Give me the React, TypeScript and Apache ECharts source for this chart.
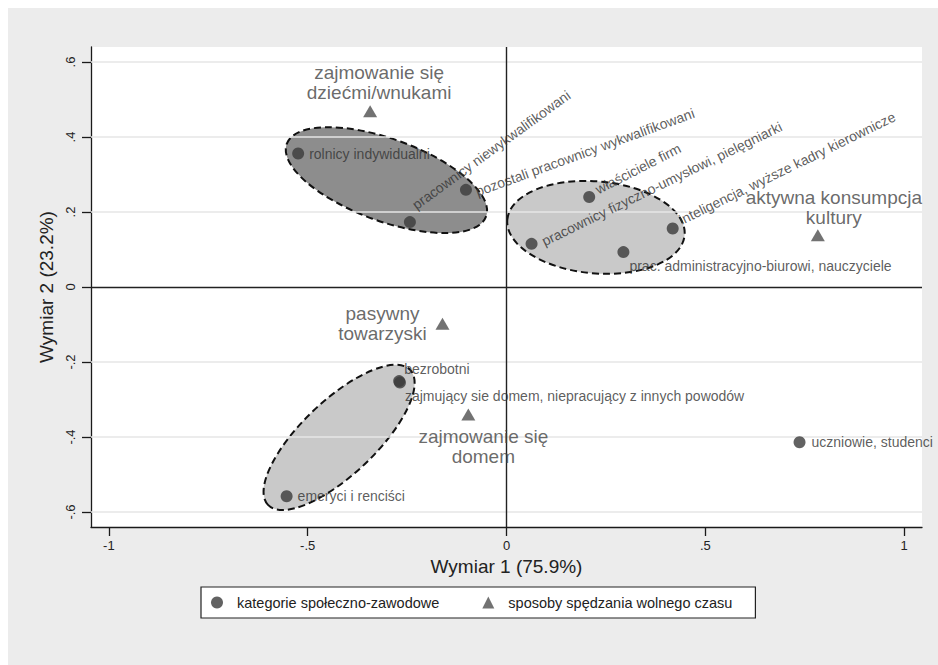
import React, { useEffect, useRef } from "react";
import * as echarts from "echarts";

// ---------- axes ----------
const X_TICKS = [-1, -0.5, 0, 0.5, 1];
const Y_TICKS = [-0.6, -0.4, -0.2, 0, 0.2, 0.4, 0.6];
const X_MIN = -1.045;
const X_MAX = 1.045;
const Y_MIN = -0.64;
const Y_MAX = 0.64;
const X_TITLE = "Wymiar 1 (75.9%)";
const Y_TITLE = "Wymiar 2 (23.2%)";

// ---------- series: kategorie społeczno-zawodowe ----------
const CATEGORY_SERIES = "kategorie społeczno-zawodowe";
const CATEGORY_NAMES = [
  "rolnicy indywidualni",
  "pracownicy niewykwalifikowani",
  "pozostali pracownicy wykwalifikowani",
  "właściciele firm",
  "pracownicy fizyczno-umysłowi, pielęgniarki",
  "inteligencja, wyższe kadry kierownicze",
  "prac. administracyjno-biurowi, nauczyciele",
  "bezrobotni",
  "zajmujący sie domem, niepracujący z innych powodów",
  "emeryci i renciści",
  "uczniowie, studenci",
];
const CATEGORY_X = [-0.524, -0.243, -0.102, 0.208, 0.063, 0.418, 0.294, -0.27, -0.268, -0.553, 0.737];
const CATEGORY_Y = [0.356, 0.173, 0.259, 0.24, 0.115, 0.156, 0.093, -0.251, -0.255, -0.558, -0.414];

// ---------- series: sposoby spędzania wolnego czasu ----------
const LEISURE_SERIES = "sposoby spędzania wolnego czasu";
const LEISURE_NAMES = [
  "zajmowanie się\ndziećmi/wnukami",
  "aktywna konsumpcja\nkultury",
  "pasywny\ntowarzyski",
  "zajmowanie się\ndomem",
];
const LEISURE_X = [-0.343, 0.783, -0.161, -0.096];
const LEISURE_Y = [0.469, 0.138, -0.098, -0.34];

// ---------- grouping ellipses (data space) ----------
const ELLIPSE_CX = [-0.302, 0.225, -0.421];
const ELLIPSE_CY = [0.285, 0.159, -0.401];
const ELLIPSE_MAJOR_DX = [0.2506, 0.223, 0.1789];
const ELLIPSE_MAJOR_DY = [-0.0967, -0.0207, 0.18];
const ELLIPSE_MINOR_RATIO = [0.387, 0.517, 0.378];

// ---------- label layout (pixels, separate from data) ----------
const CAT_LABEL_DX = [11, 4, 10, 7, 11, 7, 6, 5, 5, 11, 12];
const CAT_LABEL_DY = [0, -16, 2, -7, -2, -8, 14, -12, 13, 0, 0];
const CAT_LABEL_ROT = [0, 36, 20, 27, 26, 26, 0, 0, 0, 0, 0];
const LEI_LABEL_DX = [9, 16, -60, 15];
const LEI_LABEL_DY = [-29, -28, 0, 32];

// ---------- styles ----------
const FONT = "'Liberation Sans', Arial, Helvetica, sans-serif";
const ELLIPSE_FILLS = ["#8d8d8d", "#c9c9c9", "#c9c9c9"];
const DOT_SIZE = 12;
const TRI_W = 14;
const TRI_H = 12;

const fmt = (v: number) => {
  if (v === 0) return "0";
  const s = String(Math.abs(v)).replace(/^0/, "");
  return (v < 0 ? "-" : "") + s;
};

export default function App() {
  const ref = useRef<HTMLDivElement>(null);

  useEffect(() => {
    if (!ref.current) return;
    const chart = echarts.init(ref.current, undefined, { renderer: "svg" });

    const ellipseData = ELLIPSE_CX.map((cx, i) => [
      cx,
      ELLIPSE_CY[i],
      ELLIPSE_MAJOR_DX[i],
      ELLIPSE_MAJOR_DY[i],
      ELLIPSE_MINOR_RATIO[i],
      i,
    ]);

    const catData = CATEGORY_NAMES.map((n, i) => ({
      name: n,
      value: [CATEGORY_X[i], CATEGORY_Y[i]],
      label: {
        position: [DOT_SIZE / 2 + CAT_LABEL_DX[i], DOT_SIZE / 2 + CAT_LABEL_DY[i]],
        rotate: CAT_LABEL_ROT[i],
      },
    }));

    const leiData = LEISURE_NAMES.map((n, i) => ({
      name: n,
      value: [LEISURE_X[i], LEISURE_Y[i]],
      label: {
        position: [TRI_W / 2 + LEI_LABEL_DX[i], TRI_H / 2 + LEI_LABEL_DY[i]],
      },
    }));

    const gridLines = Y_TICKS.filter((v) => v !== 0).map((v) => ({
      yAxis: v,
      lineStyle: { color: "#e6e6e6", width: 1.5, type: "solid" },
    }));

    const axisLineStyle = { color: "#1a1a1a", width: 1.3 };

    chart.setOption({
      animation: false,
      textStyle: { fontFamily: FONT },
      grid: {
        left: 83,
        top: 39,
        width: 831,
        height: 480,
        show: true,
        backgroundColor: "#ffffff",
        borderWidth: 0,
      },
      legend: {
        data: [CATEGORY_SERIES, LEISURE_SERIES],
        selectedMode: false,
        left: 193,
        top: 579,
        orient: "horizontal",
        itemWidth: 12,
        itemHeight: 12,
        itemGap: 43,
        padding: [8, 23, 8, 10],
        backgroundColor: "#ffffff",
        borderColor: "#222222",
        borderWidth: 1.2,
        borderRadius: 0,
        textStyle: {
          fontSize: 14.5,
          color: "#222222",
          fontFamily: FONT,
          padding: [0, 0, 0, 9],
        },
      },
      xAxis: {
        type: "value",
        min: X_MIN,
        max: X_MAX,
        name: X_TITLE,
        nameLocation: "middle",
        nameGap: 27,
        nameTextStyle: { fontSize: 19, color: "#222222", fontFamily: FONT },
        axisLine: { show: true, onZero: false, lineStyle: axisLineStyle },
        axisTick: { show: true, length: 9, lineStyle: axisLineStyle, customValues: X_TICKS },
        axisLabel: {
          customValues: X_TICKS,
          formatter: fmt,
          fontSize: 13,
          color: "#222222",
          margin: 12,
          fontFamily: FONT,
        },
        splitLine: { show: false },
      },
      yAxis: {
        type: "value",
        min: Y_MIN,
        max: Y_MAX,
        name: Y_TITLE,
        nameLocation: "middle",
        nameGap: 33,
        nameTextStyle: { fontSize: 19, color: "#222222", fontFamily: FONT },
        axisLine: { show: true, onZero: false, lineStyle: axisLineStyle },
        axisTick: { show: true, length: 9, lineStyle: axisLineStyle, customValues: Y_TICKS },
        axisLabel: {
          customValues: Y_TICKS,
          formatter: fmt,
          rotate: 90,
          fontSize: 13,
          color: "#222222",
          margin: 14,
          fontFamily: FONT,
        },
        splitLine: { show: false },
      },
      series: [
        {
          name: "ellipses",
          type: "custom",
          z: 1,
          silent: true,
          data: ellipseData,
          renderItem: (params: any, api: any) => {
            const cx = api.value(0);
            const cy = api.value(1);
            const ux = api.value(2);
            const uy = api.value(3);
            const r = api.value(4);
            const idx = api.value(5);
            const p0 = api.coord([cx, cy]);
            const p1 = api.coord([cx + ux, cy + uy]);
            const dx = p1[0] - p0[0];
            const dy = p1[1] - p0[1];
            const a = Math.sqrt(dx * dx + dy * dy);
            const ang = Math.atan2(dy, dx);
            return {
              type: "ellipse",
              x: p0[0],
              y: p0[1],
              rotation: -ang,
              shape: { cx: 0, cy: 0, rx: a, ry: a * r },
              style: {
                fill: ELLIPSE_FILLS[idx],
                stroke: "#111111",
                lineWidth: 2,
                lineDash: [7, 4],
              },
            };
          },
          markLine: {
            silent: true,
            z: 3,
            symbol: ["none", "none"],
            label: { show: false },
            emphasis: { disabled: true },
            data: [
              ...gridLines,
              { yAxis: 0, lineStyle: { color: "#222222", width: 1.4, type: "solid" } },
              { xAxis: 0, lineStyle: { color: "#222222", width: 1.4, type: "solid" } },
            ],
          },
        },
        {
          name: CATEGORY_SERIES,
          type: "scatter",
          z: 10,
          symbol: "circle",
          symbolSize: DOT_SIZE,
          itemStyle: { color: "#3b3b3b" },
          label: {
            show: true,
            formatter: "{b}",
            align: "left",
            verticalAlign: "middle",
            fontSize: 14,
            color: "#333333",
            fontFamily: FONT,
          },
          emphasis: { disabled: true },
          data: catData,
        },
        {
          name: LEISURE_SERIES,
          type: "scatter",
          z: 10,
          symbol: "triangle",
          symbolSize: [TRI_W, TRI_H],
          itemStyle: { color: "#4f4f4f" },
          label: {
            show: true,
            formatter: "{b}",
            align: "center",
            verticalAlign: "middle",
            fontSize: 19,
            lineHeight: 20,
            color: "#444444",
            fontFamily: FONT,
          },
          emphasis: { disabled: true },
          data: leiData,
        },
      ],
    });

    return () => chart.dispose();
  }, []);

  return (
    <div
      style={{
        position: "fixed",
        left: 8,
        top: 8,
        right: 0,
        bottom: 0,
        background: "#ececec",
        overflow: "hidden",
      }}
    >
      <div ref={ref} style={{ width: 930, height: 657 }} />
    </div>
  );
}
